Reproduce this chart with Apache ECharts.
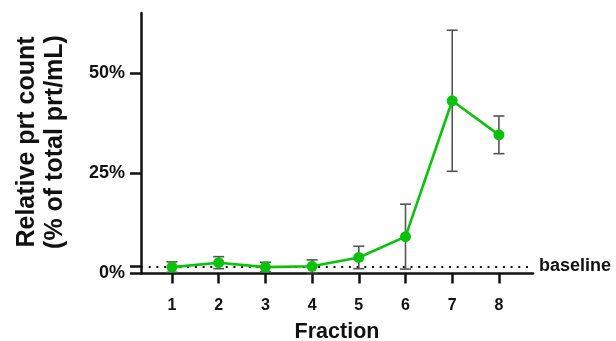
<!DOCTYPE html>
<html>
<head>
<meta charset="utf-8">
<script src="https://cdn.jsdelivr.net/npm/echarts@6/dist/echarts.min.js"></script>
<style>
  html, body { margin: 0; padding: 0; background: #fff; }
  #chart { width: 616px; height: 341px; }
</style>
</head>
<body>
<div id="chart"></div>
<script>
// Fractions on the x axis
const fractions = [1, 2, 3, 4, 5, 6, 7, 8];
// Mean relative particle count per fraction (% of total prt/mL)
const means = [1.6, 2.7, 1.6, 1.8, 4.0, 9.2, 43.1, 34.6];
// Standard deviation per fraction
const errors = [1.3, 1.5, 1.2, 1.6, 2.8, 8.1, 17.6, 4.7];
// Baseline level (%)
const baselineLevel = 1.75;
// Labelled y ticks
const yTickValues = [0, 25, 50];

const FONT = '"Liberation Sans", Arial, sans-serif';
const GREEN = '#0ac20a';

const points = fractions.map((f, i) => [f, means[i]]);
const errorData = fractions.map((f, i) => [f, means[i] - errors[i], means[i] + errors[i]]);

const chart = echarts.init(document.getElementById('chart'), null, { renderer: 'canvas' });

chart.setOption({
  animation: false,
  backgroundColor: '#ffffff',
  grid: { left: 141, right: 83, top: 13, bottom: 67.5, containLabel: false, outerBoundsMode: 'none' },
  xAxis: {
    type: 'value', min: 0.336, max: 8.73,
    name: 'Fraction', nameLocation: 'middle', nameGap: 48,
    nameTextStyle: { fontFamily: FONT, fontWeight: 'bold', fontSize: 21.5, color: '#111' },
    axisLine: { show: true, onZero: false, lineStyle: { color: '#111', width: 2.5 } },
    axisTick: { show: true, length: 10, lineStyle: { color: '#111', width: 2.5 }, customValues: fractions },
    axisLabel: { fontFamily: FONT, fontWeight: 'bold', fontSize: 16, color: '#111', margin: 24, customValues: fractions },
    splitLine: { show: false }
  },
  yAxis: {
    type: 'value', min: 0, max: 65,
    axisLine: { show: true, lineStyle: { color: '#111', width: 2.5 } },
    axisTick: { show: true, length: 11, lineStyle: { color: '#111', width: 2.5 }, customValues: [0, baselineLevel, 25, 50] },
    axisLabel: {
      fontFamily: FONT, fontWeight: 'bold', fontSize: 18, color: '#111', margin: 16,
      padding: [12, 0, 0, 0], customValues: yTickValues, formatter: v => v + '%'
    },
    splitLine: { show: false }
  },
  graphic: [{
    type: 'text', x: 41, y: 142, rotation: Math.PI / 2,
    style: {
      text: 'Relative prt count\n(% of total prt/mL)', fontFamily: FONT, fontWeight: 'bold',
      fontSize: 25, lineHeight: 28, fill: '#111', align: 'center', verticalAlign: 'middle'
    }
  }],
  series: [
    {
      // mean ± SD error bars with caps
      type: 'custom', z: 2, data: errorData,
      renderItem: function (params, api) {
        const x = api.value(0);
        const lo = api.coord([x, api.value(1)]);
        const hi = api.coord([x, api.value(2)]);
        const cap = 5.5;
        const style = { stroke: '#555', lineWidth: 1.6, fill: null };
        return { type: 'group', children: [
          { type: 'line', shape: { x1: lo[0], y1: lo[1], x2: hi[0], y2: hi[1] }, style },
          { type: 'line', shape: { x1: hi[0] - cap, y1: hi[1], x2: hi[0] + cap, y2: hi[1] }, style },
          { type: 'line', shape: { x1: lo[0] - cap, y1: lo[1], x2: lo[0] + cap, y2: lo[1] }, style }
        ] };
      }
    },
    {
      type: 'line', z: 3, data: points, symbol: 'circle', symbolSize: 11,
      itemStyle: { color: GREEN }, lineStyle: { color: GREEN, width: 2.6 },
      markLine: {
        silent: true, symbol: ['none', 'none'], z: 1,
        lineStyle: { color: '#111', width: 2, type: [2, 5.7] },
        label: {
          show: true, position: 'end', distance: 6, padding: [6, 0, 0, 0], formatter: 'baseline',
          fontFamily: FONT, fontWeight: 'bold', fontSize: 18, color: '#111'
        },
        data: [{ yAxis: baselineLevel }]
      }
    }
  ]
});
</script>
</body>
</html>
